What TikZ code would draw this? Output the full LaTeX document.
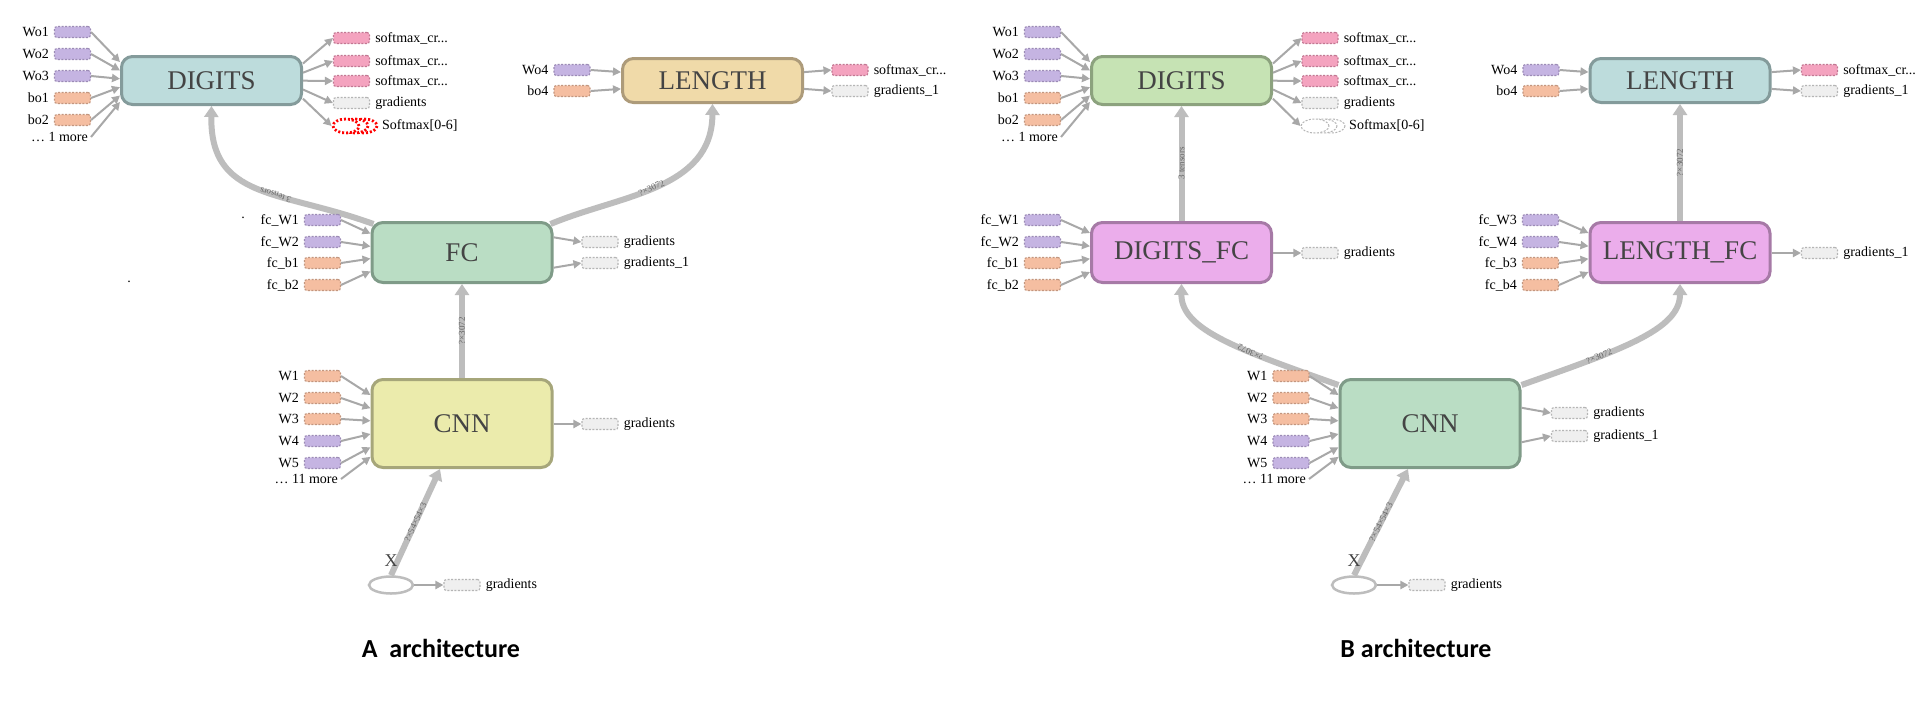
\documentclass[tikz,border=0pt]{standalone}
\usepackage{fontspec}
\setmainfont{Liberation Serif}
\newfontfamily\capfont{Carlito}
\usepackage{tikz}
\usetikzlibrary{arrows.meta,positioning,shapes.geometric,backgrounds}
\newcommand\smcr{softmax\_cr...}

\definecolor{edgegrey}{HTML}{A8A8A8}
\definecolor{flowgrey}{HTML}{BDBDBD}
\definecolor{boxtext}{HTML}{444444}
\definecolor{tealfill}{HTML}{BDDCDC}
\definecolor{tealline}{HTML}{849B9B}
\definecolor{wheatfill}{HTML}{F0DAA9}
\definecolor{wheatline}{HTML}{AD9B7A}
\definecolor{mintfill}{HTML}{BADDC4}
\definecolor{mintline}{HTML}{7F9B88}
\definecolor{olivefill}{HTML}{EBEBAC}
\definecolor{oliveline}{HTML}{A6A67A}
\definecolor{limefill}{HTML}{C6E3B4}
\definecolor{limeline}{HTML}{8CA27E}
\definecolor{orchidfill}{HTML}{EBADEB}
\definecolor{orchidline}{HTML}{A67AA6}
\definecolor{purplefill}{HTML}{C5B4E2}
\definecolor{purpleline}{HTML}{9C8BB6}
\definecolor{orangefill}{HTML}{F5BEA1}
\definecolor{orangeline}{HTML}{C3967E}
\definecolor{pinkfill}{HTML}{F4A3BF}
\definecolor{pinkline}{HTML}{C27792}
\definecolor{greyfill}{HTML}{EFEFEF}
\definecolor{greyline}{HTML}{B5B5B5}

\tikzstyle{opbox}=[draw, rounded corners=11pt, line width=3pt, minimum width=180pt, inner sep=0pt, text=boxtext, font=\fontsize{27}{27}\selectfont]
\tikzstyle{var}=[draw, rounded corners=2.5pt, minimum width=36pt, minimum height=11pt, inner sep=0pt, line width=1.1pt, dash pattern=on 2pt off 1.5pt]
\tikzstyle{varpurple}=[var, fill=purplefill, draw=purpleline]
\tikzstyle{varorange}=[var, fill=orangefill, draw=orangeline]
\tikzstyle{varpink}=[var, fill=pinkfill, draw=pinkline]
\tikzstyle{vargrey}=[var, fill=greyfill, draw=greyline]
\tikzstyle{lbl}=[font=\fontsize{14}{14}\selectfont, inner sep=1pt]
\tikzstyle{varlbl}=[lbl, label distance=4pt]
\tikzstyle{inedge}=[draw=edgegrey, line width=2pt, -{Triangle[length=8pt,width=8pt]}]
\tikzstyle{flow}=[draw=flowgrey, line width=6pt, -{Triangle[length=11pt,width=14pt]}]
\tikzstyle{flowlbl}=[font=\fontsize{9}{9}\selectfont, text=black!60, sloped, allow upside down, inner sep=0pt]
\tikzstyle{placeholder}=[ellipse, draw=flowgrey, line width=2.5pt, minimum width=44pt, minimum height=17pt, inner sep=0pt]
\tikzstyle{xlbl}=[font=\fontsize{18}{18}\selectfont, text=boxtext, inner sep=0pt]
\tikzstyle{redseries}=[draw=red, fill=white, line width=2.8pt, dash pattern=on 2pt off 2pt]
\tikzstyle{greyseries}=[draw=greyline, fill=white, line width=1pt, dash pattern=on 2pt off 1.5pt]
\tikzstyle{archcap}=[font=\capfont\bfseries\fontsize{26}{26}\selectfont]

\begin{document}
\begin{tikzpicture}[x=1pt,y=-1pt]
\useasboundingbox (0,0) rectangle (1926,702);
\begin{scope}[on background layer]
  \fill[white] (0,0) rectangle (1926,702);
\end{scope}

% A architecture
\node[opbox, fill=tealfill, draw=tealline, minimum height=48pt] (aDigits) at (211.5,80.5) {DIGITS};
\node[opbox, fill=wheatfill, draw=wheatline, minimum height=44pt] (aLength) at (712.5,80.5) {LENGTH};
\node[opbox, fill=mintfill, draw=mintline, minimum height=60pt] (aFC) at (462,252.5) {FC};
\node[opbox, fill=olivefill, draw=oliveline, minimum height=88pt] (aCNN) at (462,423.5) {CNN};
\node[placeholder] (aX) at (391,585) {};
\node[xlbl] (aXlbl) at (391,561) {X};
\node[lbl] (aDot1) at (243,218) {.};
\node[lbl] (aDot2) at (129,282) {.};

\foreach \nm/\lab/\yy/\sty in {Wo1/Wo1/32/varpurple, Wo2/Wo2/54/varpurple, Wo3/Wo3/76/varpurple, bo1/bo1/98/varorange, bo2/bo2/120/varorange}{
  \node[\sty, label={[varlbl]left:\lab}] (aD\nm) at (72.5,\yy) {};
  \draw[inedge] (aD\nm.east) -- ([yshift={(80.5-\yy)*0.38}]aDigits.west);
}
\node[lbl, anchor=east, inner sep=3pt] (aDmore) at (91,137) {\ldots\ 1 more};
\draw[inedge] (aDmore.east) -- ([yshift={(80.5-137)*0.38}]aDigits.west);
\foreach \nm/\lab/\yy/\sty in {sc1/\smcr/38/varpink, sc2/\smcr/61/varpink, sc3/\smcr/81/varpink, gr/gradients/103/vargrey}{
  \node[\sty, label={[varlbl]right:\lab}] (aD\nm) at (351.5,\yy) {};
  \draw[inedge] ([yshift={(80.5-\yy)*0.4}]aDigits.east) -- (aD\nm.west);
}
\foreach \dx in {18,9}{\draw[redseries] ({346+\dx},126) ellipse (13 and 7);}
\node[redseries, ellipse, minimum width=26pt, minimum height=14pt, inner sep=0pt] (aDsoftmax) at (346,126) {};
\node[lbl, anchor=west] (aDsoftmaxlbl) at (381,126) {Softmax[0-6]};
\draw[inedge] ([yshift={(80.5-126)*0.4}]aDigits.east) -- (aDsoftmax.west);

\foreach \nm/\lab/\yy/\sty in {Wo4/Wo4/70/varpurple, bo4/bo4/91/varorange}{
  \node[\sty, label={[varlbl]left:\lab}] (aL\nm) at (572,\yy) {};
  \draw[inedge] (aL\nm.east) -- ([yshift={(80.5-\yy)*0.8}]aLength.west);
}
\foreach \nm/\lab/\yy/\sty in {sc/\smcr/70/varpink, gr/gradients\_1/91/vargrey}{
  \node[\sty, label={[varlbl]right:\lab}] (aL\nm) at (850,\yy) {};
  \draw[inedge] ([yshift={(80.5-\yy)*0.8}]aLength.east) -- (aL\nm.west);
}

\foreach \nm/\lab/\yy/\sty in {W1/fc\_W1/220/varpurple, W2/fc\_W2/242/varpurple, b1/fc\_b1/263/varorange, b2/fc\_b2/285/varorange}{
  \node[\sty, label={[varlbl]left:\lab}] (aF\nm) at (322.5,\yy) {};
  \draw[inedge] (aF\nm.east) -- ([yshift={(252.5-\yy)*0.58}]aFC.west);
}
\foreach \nm/\lab/\yy/\sty in {gr/gradients/242/vargrey, gr1/gradients\_1/263/vargrey}{
  \node[\sty, label={[varlbl]right:\lab}] (aF\nm) at (600,\yy) {};
  \draw[inedge] ([yshift={(252.5-\yy)*1.45}]aFC.east) -- (aF\nm.west);
}

\foreach \nm/\lab/\yy/\sty in {W1/W1/376/varorange, W2/W2/398/varorange, W3/W3/419/varorange, W4/W4/441/varpurple, W5/W5/463/varpurple}{
  \node[\sty, label={[varlbl]left:\lab}] (aC\nm) at (322.5,\yy) {};
  \draw[inedge] (aC\nm.east) -- ([yshift={(423.5-\yy)*0.6}]aCNN.west);
}
\node[lbl, anchor=east, inner sep=3pt] (aCmore) at (341,479) {\ldots\ 11 more};
\draw[inedge] (aCmore.east) -- ([yshift={(423.5-479)*0.6}]aCNN.west);
\node[vargrey, label={[varlbl]right:gradients}] (aCgr) at (600,424) {};
\draw[inedge] (aCNN.east |- aCgr) -- (aCgr.west);
\node[vargrey, label={[varlbl]right:gradients}] (aXgr) at (462,585) {};
\draw[inedge] (aX.east) -- (aXgr.west);

\begin{scope}[on background layer]
  \draw[flow] (aX.north) -- ([xshift=-22pt]aCNN.south) node[flowlbl, midway]{?×54×54×3};
  \draw[flow] (aCNN.north) -- (aFC.south) node[flowlbl, midway]{?×3072};
  \draw[flow] ([shift={(3pt,-3pt)}]aFC.north west) .. controls (280,190) and (210,200) .. (aDigits.south) node[flowlbl, pos=0.4]{3 tensors};
  \draw[flow] ([shift={(-3pt,-3pt)}]aFC.north east) .. controls (620,195) and (712,190) .. (aLength.south) node[flowlbl, pos=0.47]{?×3072};
\end{scope}

% B architecture
\node[opbox, fill=limefill, draw=limeline, minimum height=48pt] (bDigits) at (1181.5,80.5) {DIGITS};
\node[opbox, fill=tealfill, draw=tealline, minimum height=44pt] (bLength) at (1680,80.5) {LENGTH};
\node[opbox, fill=orchidfill, draw=orchidline, minimum height=60pt] (bDigitsFC) at (1181.5,252.5) {DIGITS\_FC};
\node[opbox, fill=orchidfill, draw=orchidline, minimum height=60pt] (bLengthFC) at (1680,252.5) {LENGTH\_FC};
\node[opbox, fill=mintfill, draw=mintline, minimum height=88pt] (bCNN) at (1430,423.5) {CNN};
\node[placeholder] (bX) at (1354,585) {};
\node[xlbl] (bXlbl) at (1354,561) {X};

\foreach \nm/\lab/\yy/\sty in {Wo1/Wo1/32/varpurple, Wo2/Wo2/54/varpurple, Wo3/Wo3/76/varpurple, bo1/bo1/98/varorange, bo2/bo2/120/varorange}{
  \node[\sty, label={[varlbl]left:\lab}] (bD\nm) at (1042.5,\yy) {};
  \draw[inedge] (bD\nm.east) -- ([yshift={(80.5-\yy)*0.38}]bDigits.west);
}
\node[lbl, anchor=east, inner sep=3pt] (bDmore) at (1061,137) {\ldots\ 1 more};
\draw[inedge] (bDmore.east) -- ([yshift={(80.5-137)*0.38}]bDigits.west);
\foreach \nm/\lab/\yy/\sty in {sc1/\smcr/38/varpink, sc2/\smcr/61/varpink, sc3/\smcr/81/varpink, gr/gradients/103/vargrey}{
  \node[\sty, label={[varlbl]right:\lab}] (bD\nm) at (1320,\yy) {};
  \draw[inedge] ([yshift={(80.5-\yy)*0.4}]bDigits.east) -- (bD\nm.west);
}
\foreach \dx in {16,8}{\draw[greyseries] ({1315+\dx},126) ellipse (14 and 7);}
\node[greyseries, ellipse, minimum width=28pt, minimum height=14pt, inner sep=0pt] (bDsoftmax) at (1315,126) {};
\node[lbl, anchor=west] (bDsoftmaxlbl) at (1348,126) {Softmax[0-6]};
\draw[inedge] ([yshift={(80.5-126)*0.4}]bDigits.east) -- (bDsoftmax.west);

\foreach \nm/\lab/\yy/\sty in {Wo4/Wo4/70/varpurple, bo4/bo4/91/varorange}{
  \node[\sty, label={[varlbl]left:\lab}] (bL\nm) at (1541,\yy) {};
  \draw[inedge] (bL\nm.east) -- ([yshift={(80.5-\yy)*0.8}]bLength.west);
}
\foreach \nm/\lab/\yy/\sty in {sc/\smcr/70/varpink, gr/gradients\_1/91/vargrey}{
  \node[\sty, label={[varlbl]right:\lab}] (bL\nm) at (1819.5,\yy) {};
  \draw[inedge] ([yshift={(80.5-\yy)*0.8}]bLength.east) -- (bL\nm.west);
}

\foreach \nm/\lab/\yy/\sty in {W1/fc\_W1/220/varpurple, W2/fc\_W2/242/varpurple, b1/fc\_b1/263/varorange, b2/fc\_b2/285/varorange}{
  \node[\sty, label={[varlbl]left:\lab}] (bDF\nm) at (1042.5,\yy) {};
  \draw[inedge] (bDF\nm.east) -- ([yshift={(252.5-\yy)*0.6}]bDigitsFC.west);
}
\node[vargrey, label={[varlbl]right:gradients}] (bDFgr) at (1320,253) {};
\draw[inedge] (bDigitsFC.east |- bDFgr) -- (bDFgr.west);

\foreach \nm/\lab/\yy/\sty in {W3/fc\_W3/220/varpurple, W4/fc\_W4/242/varpurple, b3/fc\_b3/263/varorange, b4/fc\_b4/285/varorange}{
  \node[\sty, label={[varlbl]left:\lab}] (bLF\nm) at (1540.5,\yy) {};
  \draw[inedge] (bLF\nm.east) -- ([yshift={(252.5-\yy)*0.6}]bLengthFC.west);
}
\node[vargrey, label={[varlbl]right:gradients\_1}] (bLFgr) at (1819.5,253) {};
\draw[inedge] (bLengthFC.east |- bLFgr) -- (bLFgr.west);

\foreach \nm/\lab/\yy/\sty in {W1/W1/376/varorange, W2/W2/398/varorange, W3/W3/419/varorange, W4/W4/441/varpurple, W5/W5/463/varpurple}{
  \node[\sty, label={[varlbl]left:\lab}] (bC\nm) at (1291,\yy) {};
  \draw[inedge] (bC\nm.east) -- ([yshift={(423.5-\yy)*0.6}]bCNN.west);
}
\node[lbl, anchor=east, inner sep=3pt] (bCmore) at (1309,479) {\ldots\ 11 more};
\draw[inedge] (bCmore.east) -- ([yshift={(423.5-479)*0.6}]bCNN.west);
\foreach \nm/\lab/\yy in {gr/gradients/413, gr1/gradients\_1/436}{
  \node[vargrey, label={[varlbl]right:\lab}] (bC\nm) at (1569.5,\yy) {};
  \draw[inedge] ([yshift={(423.5-\yy)*1.5}]bCNN.east) -- (bC\nm.west);
}
\node[vargrey, label={[varlbl]right:gradients}] (bXgr) at (1427,585) {};
\draw[inedge] (bX.east) -- (bXgr.west);

\begin{scope}[on background layer]
  \draw[flow] (bX.north) -- ([xshift=-22pt]bCNN.south) node[flowlbl, midway]{?×54×54×3};
  \draw[flow] ([yshift=-7pt]bCNN.north west) .. controls (1240,350) and (1181,330) .. (bDigitsFC.south) node[flowlbl, pos=0.35]{?×3072};
  \draw[flow] ([yshift=-7pt]bCNN.north east) .. controls (1620,350) and (1680,330) .. (bLengthFC.south) node[flowlbl, pos=0.3]{?×3072};
  \draw[flow] (bDigitsFC.north) -- (bDigits.south) node[flowlbl, midway]{3 tensors};
  \draw[flow] (bLengthFC.north) -- (bLength.south) node[flowlbl, midway]{?×3072};
\end{scope}

% captions
\node[archcap] (capA) at (441,648) {A\ \ architecture};
\node[archcap] (capB) at (1416,648) {B architecture};
\end{tikzpicture}
\end{document}
